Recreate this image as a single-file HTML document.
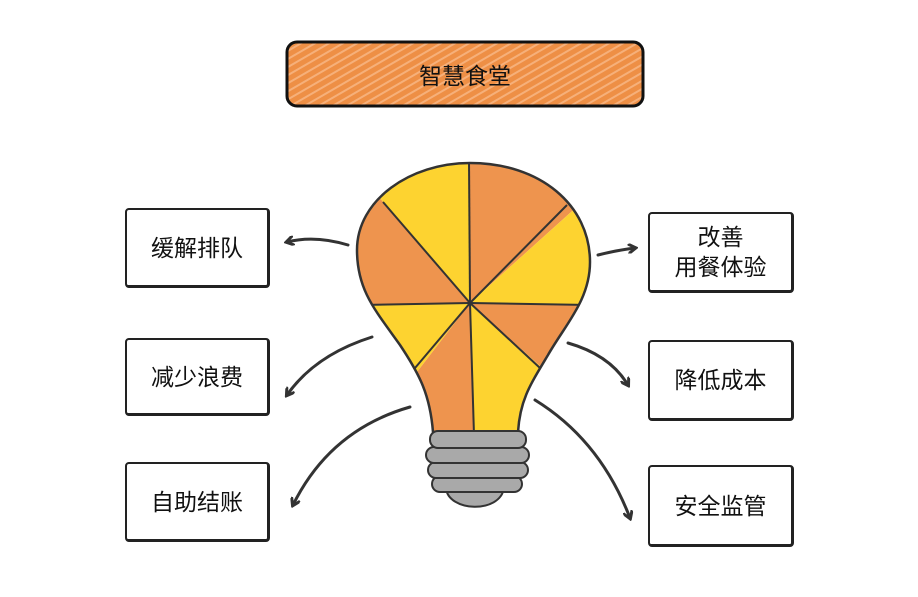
<!DOCTYPE html>
<html><head><meta charset="utf-8"><style>
body{margin:0;width:918px;height:597px;background:#fff;overflow:hidden;font-family:"Liberation Sans","Noto Sans CJK SC",sans-serif}
.b{position:absolute;box-sizing:border-box;border:2px solid #222;border-right-width:3px;border-bottom-width:3px;border-radius:4px;background:#fff;display:flex;align-items:center;justify-content:center;text-align:center;font-size:23px;color:#111;line-height:30px}
</style></head><body>
<svg width="918" height="597" style="position:absolute;left:0;top:0">
<defs>
<pattern id="h" width="7" height="7" patternUnits="userSpaceOnUse" patternTransform="rotate(60)"><rect width="7" height="7" fill="#F6B07A"/><rect width="5" height="7" fill="#EE8F45"/></pattern>
<clipPath id="c"><path id="bp" d="M433,432 C430,395 420,375 400,345 C375,310 357,290 357,250 C357,200 410,163 470,163 C540,163 590,205 590,262 C590,300 565,325 548,355 C530,385 520,400 518,432 Z"/></clipPath>
<marker id="a" markerWidth="10" markerHeight="10" refX="7" refY="5" orient="auto" markerUnits="userSpaceOnUse"><path d="M0,0 L8,5 L0,10" fill="none" stroke="#333" stroke-width="3"/></marker>
</defs>
<rect x="287" y="42" width="356" height="64" rx="10" fill="url(#h)" stroke="#111" stroke-width="3"/>
<g clip-path="url(#c)">
<polygon points="470,303 469,100 640,150" fill="#EE944E"/>
<polygon points="470,303 640,150 660,305" fill="#FDD330"/>
<polygon points="470,303 660,305 600,420" fill="#EE944E"/>
<polygon points="470,303 600,420 474,460" fill="#FDD330"/>
<polygon points="470,303 474,460 380,420" fill="#EE944E"/>
<polygon points="470,303 380,420 300,305" fill="#FDD330"/>
<polygon points="470,303 300,305 330,140" fill="#EE944E"/>
<polygon points="470,303 330,140 469,100" fill="#FDD330"/>
<g stroke="#333" stroke-width="2">
<line x1="470" y1="303" x2="469" y2="160"/><line x1="470" y1="303" x2="383" y2="202"/>
<line x1="470" y1="303" x2="360" y2="305"/><line x1="470" y1="303" x2="567" y2="205"/>
<line x1="470" y1="303" x2="590" y2="305"/><line x1="470" y1="303" x2="415" y2="368"/>
<line x1="470" y1="303" x2="474" y2="435"/><line x1="470" y1="303" x2="540" y2="368"/>
</g></g>
<use href="#bp" fill="none" stroke="#333" stroke-width="2.5"/>
<g fill="#A9A9A9" stroke="#333" stroke-width="2">
<path d="M446,488 C448,512 500,514 504,488 Z"/>
<rect x="432" y="476" width="90" height="16" rx="8"/>
<rect x="428" y="462" width="100" height="16" rx="8"/>
<rect x="426" y="447" width="103" height="16" rx="8"/>
<rect x="430" y="431" width="96" height="17" rx="8"/>
</g>
<g fill="none" stroke="#333" stroke-width="3" stroke-linecap="round" marker-end="url(#a)">
<path d="M348,245 Q315,235 287,242"/>
<path d="M372,337 Q315,355 287,395"/>
<path d="M410,407 Q330,430 293,505"/>
<path d="M598,255 Q618,250 635,248"/>
<path d="M568,343 Q610,355 628,385"/>
<path d="M535,400 Q600,440 630,518"/>
</g>
</svg>
<div style="position:absolute;left:287px;top:42px;width:356px;height:64px;display:flex;align-items:center;justify-content:center;font-size:23px;color:#111">智慧食堂</div>
<div class="b" style="left:125px;top:208px;width:145px;height:80px">缓解排队</div>
<div class="b" style="left:125px;top:338px;width:145px;height:78px">减少浪费</div>
<div class="b" style="left:125px;top:462px;width:145px;height:80px">自助结账</div>
<div class="b" style="left:648px;top:212px;width:146px;height:81px">改善<br>用餐体验</div>
<div class="b" style="left:648px;top:340px;width:146px;height:81px">降低成本</div>
<div class="b" style="left:648px;top:465px;width:146px;height:82px">安全监管</div>
</body></html>
